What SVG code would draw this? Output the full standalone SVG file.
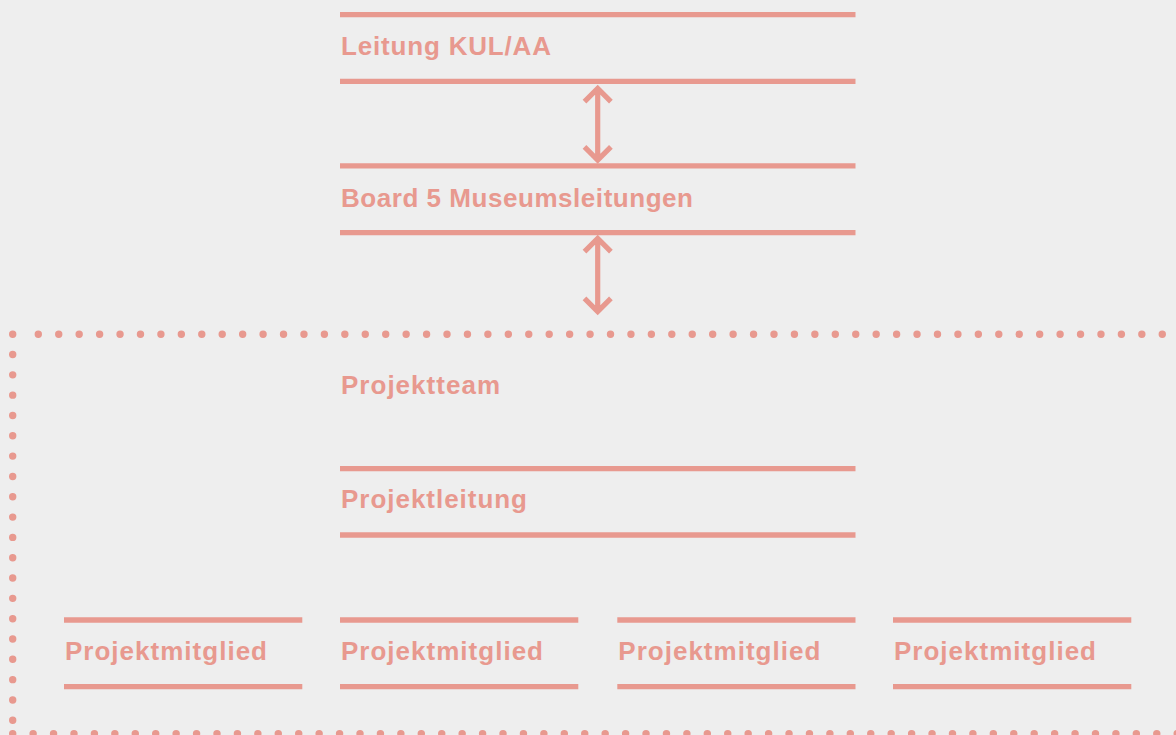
<svg xmlns="http://www.w3.org/2000/svg" width="1176" height="735" viewBox="0 0 1176 735">
<style>
.bar{stroke:#E8998F;stroke-width:5.3;fill:none}
.lbl{font-family:"Liberation Sans",Arial,sans-serif;font-weight:bold;font-size:26px;fill:#E8998F}
.arr{stroke:#E8998F;stroke-width:5.2;fill:none;stroke-linejoin:miter;stroke-linecap:butt}
.dots{stroke:#E8998F;stroke-width:7.4;stroke-linecap:round;fill:none}
</style>
<rect width="1176" height="735" fill="#EEEEEE"/>
<g id="frame-projektteam">
<line class="dots" x1="38.3" y1="334.2" x2="1180" y2="334.2" stroke-dasharray="0 20.436"/>
<line class="dots" x1="12.7" y1="334.2" x2="12.7" y2="725" stroke-dasharray="0 20.32"/>
<line class="dots" x1="12.7" y1="733.6" x2="1185" y2="733.6" stroke-dasharray="0 20.43"/>
<text class="lbl" x="341" y="394" textLength="159" lengthAdjust="spacing">Projektteam</text>
</g>
<g id="leitung">
<line class="bar" x1="340" y1="14.6" x2="855.5" y2="14.6"/>
<line class="bar" x1="340" y1="81.3" x2="855.5" y2="81.3"/>
<text class="lbl" x="341" y="55" textLength="210" lengthAdjust="spacing">Leitung KUL/AA</text>
</g>
<g id="board">
<line class="bar" x1="340" y1="165.8" x2="855.5" y2="165.8"/>
<line class="bar" x1="340" y1="232.6" x2="855.5" y2="232.6"/>
<text class="lbl" x="341" y="206.7" textLength="352" lengthAdjust="spacing">Board 5 Museumsleitungen</text>
</g>
<g id="projektleitung">
<line class="bar" x1="340" y1="468.7" x2="855.5" y2="468.7"/>
<line class="bar" x1="340" y1="535" x2="855.5" y2="535"/>
<text class="lbl" x="341" y="508.3" textLength="186" lengthAdjust="spacing">Projektleitung</text>
</g>
<g id="mitglied-1">
<line class="bar" x1="64" y1="620" x2="302.3" y2="620"/>
<line class="bar" x1="64" y1="686.7" x2="302.3" y2="686.7"/>
<text class="lbl" x="65" y="660" textLength="202" lengthAdjust="spacing">Projektmitglied</text>
</g>
<g id="mitglied-2">
<line class="bar" x1="340" y1="620" x2="578.3" y2="620"/>
<line class="bar" x1="340" y1="686.7" x2="578.3" y2="686.7"/>
<text class="lbl" x="341" y="660" textLength="202" lengthAdjust="spacing">Projektmitglied</text>
</g>
<g id="mitglied-3">
<line class="bar" x1="617.3" y1="620" x2="855.5" y2="620"/>
<line class="bar" x1="617.3" y1="686.7" x2="855.5" y2="686.7"/>
<text class="lbl" x="618.3" y="660" textLength="202" lengthAdjust="spacing">Projektmitglied</text>
</g>
<g id="mitglied-4">
<line class="bar" x1="893" y1="620" x2="1131.3" y2="620"/>
<line class="bar" x1="893" y1="686.7" x2="1131.3" y2="686.7"/>
<text class="lbl" x="894" y="660" textLength="202" lengthAdjust="spacing">Projektmitglied</text>
</g>
<g id="connectors">
<path class="arr" d="M597.7 88.5V160M584.5 101.7L597.7 88.5L610.9 101.7M584.5 146.8L597.7 160L610.9 146.8"/>
<path class="arr" d="M597.7 238.5V311.5M584.5 251.7L597.7 238.5L610.9 251.7M584.5 298.3L597.7 311.5L610.9 298.3"/>
</g>
</svg>
